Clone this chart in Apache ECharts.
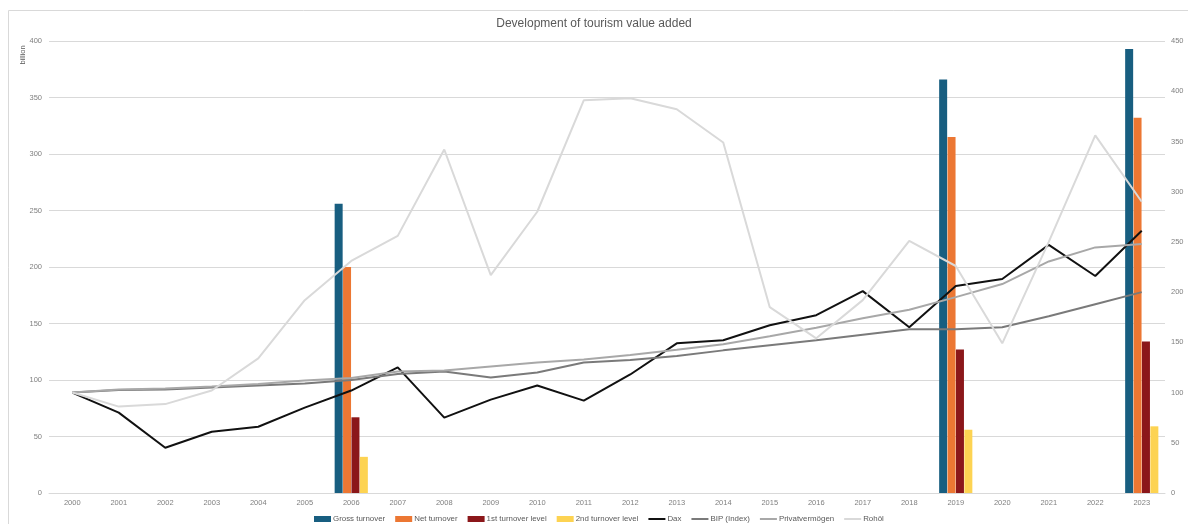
<!DOCTYPE html>
<html>
<head>
<meta charset="utf-8">
<script src="https://cdn.jsdelivr.net/npm/echarts@6/dist/echarts.min.js"></script>
<style>
html,body{margin:0;padding:0;background:#fff;}
#chart{width:1188px;height:524px;}
</style>
</head>
<body>
<div id="chart"></div>
<script>
const years = ['2000','2001','2002','2003','2004','2005','2006','2007','2008','2009','2010','2011','2012','2013','2014','2015','2016','2017','2018','2019','2020','2021','2022','2023'];
const leftTicks = [0,50,100,150,200,250,300,350,400];
const rightTicks = [0,50,100,150,200,250,300,350,400,450];

const grossTurnover = [null,null,null,null,null,null,256,null,null,null,null,null,null,null,null,null,null,null,null,366,null,null,null,393];
const netTurnover   = [null,null,null,null,null,null,200,null,null,null,null,null,null,null,null,null,null,null,null,315,null,null,null,332];
const firstLevel    = [null,null,null,null,null,null,67,null,null,null,null,null,null,null,null,null,null,null,null,127,null,null,null,134];
const secondLevel   = [null,null,null,null,null,null,32,null,null,null,null,null,null,null,null,null,null,null,null,56,null,null,null,59];

const dax   = [100,80,45,61,66,85,102,125,75,93,107,92,118,149,152,167,177,201,165,206,213,247,216,261];
const bip   = [100,102.5,103,105,107,109,112.5,118.5,121,115,120,130,132.5,136.5,142,147,152,157.5,163,163,165,176,188,200];
const privat= [100,103,104,106,108.5,112,114.5,121,122,126,130,133,137.5,142.5,148,156,164.5,174,182.5,195,208,230.5,244.5,248];
const rohoel= [100,86,88.5,102,134,192,231,256,342,217,280,391,393,382,349,185,154,192,251,226,149,250,356,290];

const chart = echarts.init(document.getElementById('chart'));
const axisLabelStyle = {color:'#7f7f7f', fontSize:7.5, fontFamily:'Liberation Sans'};
const barCommon = {type:'bar', yAxisIndex:0, barWidth:8, barGap:'5%'};
const lineCommon = {type:'line', yAxisIndex:1, symbol:'none', showSymbol:false};
const lineIcon = 'path://M0,0H0.01V0.01H0Z M0,2H17V4H0Z M16.99,5.99H17V6H16.99Z';
chart.setOption({
  animation:false,
  textStyle:{fontFamily:'Liberation Sans'},
  title:{
    text:'Development of tourism value added',
    left:'center', top:13,
    textStyle:{color:'#595959', fontSize:12, fontWeight:'normal', fontFamily:'Liberation Sans'}
  },
  graphic:[
    {type:'rect', shape:{x:8.5,y:10.5,width:1200,height:600}, style:{fill:'none', stroke:'#d9d9d9', lineWidth:1}, silent:true},
    {type:'text', x:23, y:55, rotation:Math.PI/2, style:{text:'billion', fill:'#595959', fontSize:7.5, fontFamily:'Liberation Sans', align:'center', verticalAlign:'middle'}}
  ],
  grid:{left:49, right:23, top:41, bottom:31, containLabel:false},
  legend:{
    bottom:-4, left:309, padding:5,
    itemWidth:17, itemHeight:6, itemGap:10,
    textStyle:{color:'#595959', fontSize:7.9, padding:[0,0,0,-3]},
    data:[
      {name:'Gross turnover', icon:'rect'},
      {name:'Net turnover', icon:'rect'},
      {name:'1st turnover level', icon:'rect'},
      {name:'2nd turnover level', icon:'rect'},
      {name:'Dax', icon:lineIcon},
      {name:'BIP (Index)', icon:lineIcon},
      {name:'Privatvermögen', icon:lineIcon},
      {name:'Rohöl', icon:lineIcon}
    ]
  },
  xAxis:{
    type:'category', data:years, boundaryGap:true,
    axisLine:{lineStyle:{color:'#d9d9d9'}},
    axisTick:{show:false},
    axisLabel:Object.assign({margin:6, interval:0}, axisLabelStyle)
  },
  yAxis:[
    {type:'value', min:leftTicks[0], max:leftTicks[leftTicks.length-1], interval:50,
     axisLabel:Object.assign({margin:7}, axisLabelStyle),
     splitLine:{lineStyle:{color:'#d9d9d9'}}, axisLine:{show:false}, axisTick:{show:false}},
    {type:'value', min:rightTicks[0], max:rightTicks[rightTicks.length-1], interval:50,
     axisLabel:Object.assign({margin:6}, axisLabelStyle),
     splitLine:{show:false}, axisLine:{show:false}, axisTick:{show:false}, alignTicks:false}
  ],
  series:[
    Object.assign({name:'Gross turnover', data:grossTurnover, itemStyle:{color:'#185e80'}}, barCommon),
    Object.assign({name:'Net turnover', data:netTurnover, itemStyle:{color:'#ec7733'}}, barCommon),
    Object.assign({name:'1st turnover level', data:firstLevel, itemStyle:{color:'#8b171a'}}, barCommon),
    Object.assign({name:'2nd turnover level', data:secondLevel, itemStyle:{color:'#fdd352'}}, barCommon),
    Object.assign({name:'Dax', data:dax, itemStyle:{color:'#111111'}, lineStyle:{width:2,color:'#111111'}}, lineCommon),
    Object.assign({name:'BIP (Index)', data:bip, itemStyle:{color:'#7a7a7a'}, lineStyle:{width:2,color:'#7a7a7a'}}, lineCommon),
    Object.assign({name:'Privatvermögen', data:privat, itemStyle:{color:'#a8a8a8'}, lineStyle:{width:2,color:'#a8a8a8'}}, lineCommon),
    Object.assign({name:'Rohöl', data:rohoel, itemStyle:{color:'#d9d9d9'}, lineStyle:{width:2,color:'#d9d9d9'}}, lineCommon)
  ]
});
</script>
</body>
</html>
